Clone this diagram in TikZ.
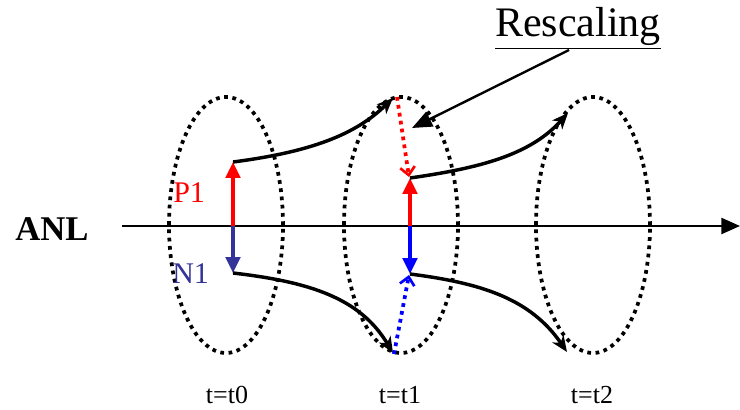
\documentclass[tikz,border=0pt]{standalone}
\usepackage{fontspec}
\setmainfont{Liberation Serif}
\usetikzlibrary{arrows.meta,shapes.geometric}
\definecolor{nblue}{RGB}{51,51,153}
\begin{document}
\begin{tikzpicture}[x=0.75pt,y=-0.75pt,
  ring/.style={draw=black,ellipse,line width=2.8pt,dash pattern=on 2.8pt off 3.4pt,minimum width=85.5pt,minimum height=192pt,inner sep=0pt},
  flow/.style={line width=2.6pt,-{Stealth[length=12pt,width=10pt,inset=3.5pt]}},
  vec/.style={line width=2.4pt,-{Triangle[length=12pt,width=11pt]}},
  resc/.style={line width=2.8pt,dash pattern=on 2.8pt off 3.2pt,-{Straight Barb[length=6pt,width=11pt,line width=2pt]}},
  lbl/.style={font=\fontsize{19.5}{22}\selectfont,inner sep=0pt}]
\useasboundingbox (0,0) rectangle (740,410);
% ellipses
\node[ring] (e0) at (226,225) {};
\node[ring] (e1) at (401,225) {};
\node[ring] (e2) at (593,225) {};
% axis
\coordinate (ax0) at (122,226);
\coordinate (ax1) at (740,226);
\draw[line width=1.8pt,-{Triangle[length=14pt,width=12pt]}] (ax0) -- (ax1);
\node[font=\fontsize{26}{30}\selectfont\bfseries,inner sep=0pt] (anl) at (52,229) {ANL};
% points
\coordinate (a0) at (233,226);
\coordinate (p0) at (233,162);
\coordinate (n0) at (233,273);
\coordinate (a1) at (410,226);
\coordinate (p1) at (410,178);
\coordinate (n1) at (410,274);
\coordinate (top1) at (393,98);
\coordinate (bot1) at (393,353);
\coordinate (top2) at (568,113);
\coordinate (bot2) at (567,352);
\coordinate (rtop) at (397,97);
\coordinate (rbot) at (394,354);
% vectors
\draw[vec,red] (a0) -- (p0);
\draw[vec,nblue] (a0) -- (n0);
\draw[vec,red] (a1) -- (p1);
\draw[vec,blue] (a1) -- (n1);
% flows
\draw[flow] (p0) .. controls (310,152) and (355,135) .. (top1);
\draw[flow] (n0) .. controls (310,282) and (360,298) .. (bot1);
\draw[flow] (p1) .. controls (480,168) and (530,155) .. (top2);
\draw[flow] (n1) .. controls (480,283) and (530,298) .. (bot2);
% rescaling
\draw[resc,red] (rtop) -- (409,177);
\draw[resc,blue] (rbot) -- (409,275);
% labels
\node[text=red,font=\fontsize{22.5}{26}\selectfont,inner sep=0pt,anchor=base west] (pl) at (173,203) {P1};
\node[text=nblue,font=\fontsize{22.5}{26}\selectfont,inner sep=0pt,anchor=base west] (nl) at (172,283) {N1};
\node[font=\fontsize{31.5}{36}\selectfont,inner sep=0pt,anchor=base] (rs) at (578,37) {\underline{Rescaling}};
\coordinate (rsa) at (569,50);
\coordinate (rsb) at (412,128);
\draw[line width=1.8pt,-{Triangle[length=15pt,width=12pt]}] (rsa) -- (rsb);
\node[lbl,anchor=base] (t0) at (227,403) {t=t0};
\node[lbl,anchor=base] (t1) at (400,403) {t=t1};
\node[lbl,anchor=base] (t2) at (592,403) {t=t2};
\end{tikzpicture}
\end{document}
